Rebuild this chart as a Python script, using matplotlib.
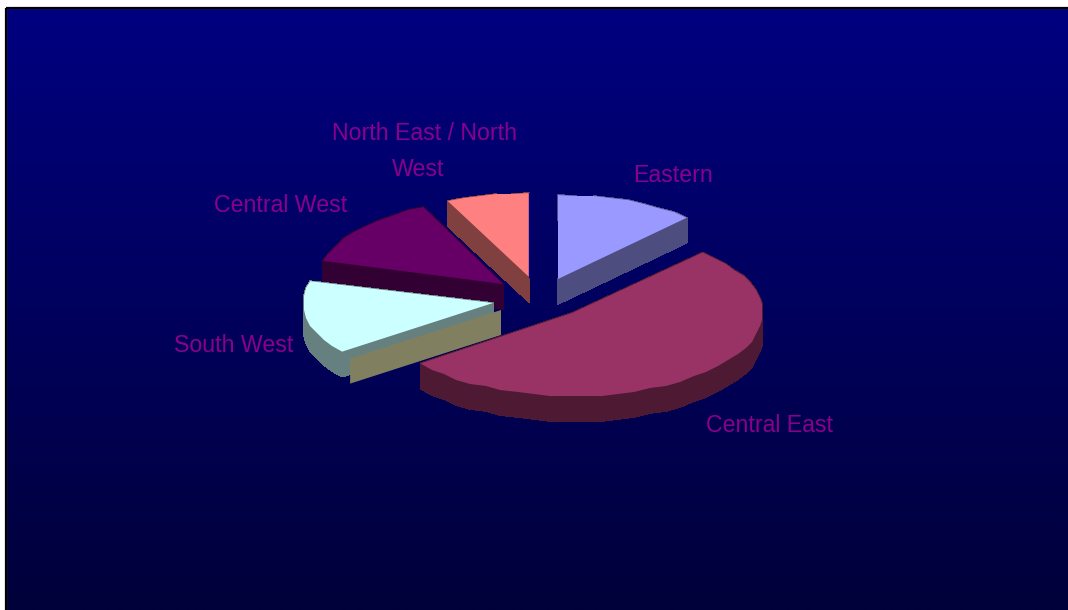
import numpy as np
import matplotlib
matplotlib.use('Agg')
import matplotlib.pyplot as plt
from matplotlib.patches import Polygon, Rectangle

regions = ['Eastern', 'Central East', 'South West', 'Central West', 'North East / North West']
shares = [12.0, 52.6, 14.8, 13.6, 7.0]

top_colors = ['#9999ff', '#993366', '#ccffff', '#660066', '#ff8080']
wall_colors = ['#4d4d80', '#4d1933', '#668080', '#330033', '#804040']
# back to front
draw_order = [4, 0, 3, 2, 1]
# where each exploded slice has its tip
tips = [(558, 279), (572, 313), (493, 303), (503, 284), (529, 277)]
# each slice gets its own radii because of the perspective
radii = [(188, 84), (191, 83), (190, 80), (187, 85), (191, 84)]
depth = 25

label_lines = [['Eastern'], ['Central East'], ['South West'], ['Central West'], ['North East / North', 'West']]
label_pos = [[(673, 175)], [(770, 425)], [(234, 345)], [(281, 206)], [(424, 134), (418, 170)]]

W, H = 1068, 610
fig = plt.figure(figsize=(W / 100, H / 100), dpi=100, facecolor='white')
ax = fig.add_axes([0, 0, 1, 1])
ax.set_xlim(0, W)
ax.set_ylim(H, 0)
ax.axis('off')

# navy gradient behind the pie
grad = np.zeros((256, 1, 3))
grad[:, 0, 2] = np.linspace(128, 58, 256) / 255
ax.imshow(grad, extent=(7, W, H, 9), aspect='auto', zorder=0)
ax.plot([5.5, 5.5], [H, 7.5], color='#b0b0b0', lw=0.8, zorder=1)
ax.plot([5.5, W], [7.5, 7.5], color='#b0b0b0', lw=0.8, zorder=1)
ax.add_patch(Rectangle((6, 8), W, H, fill=False, ec='black', lw=1.6, zorder=1))
ax.set_xlim(0, W)
ax.set_ylim(H, 0)


def slice_outline(tip, rx, ry, a0, a1):
    n = max(int(abs(a1 - a0) / 5), 2)
    t = np.radians(np.linspace(a0, a1, n + 1))
    x = tip[0] + rx * np.cos(t)
    y = tip[1] - ry * np.sin(t)
    # snap the inner rim points to a small grid so the rim looks slightly stepped
    x[1:-1] = np.round(x[1:-1] / 2) * 2
    y[1:-1] = np.round(y[1:-1] / 2) * 2
    return np.vstack([[tip], np.column_stack([x, y])])


edges = 90 - np.cumsum([0] + shares) * 360 / sum(shares)
z = 2
for i in draw_order:
    rx, ry = radii[i]
    pts = slice_outline(tips[i], rx, ry, edges[i], edges[i + 1])
    # side walls first, the top face goes over them
    for p, q in zip(pts, np.roll(pts, -1, axis=0)):
        quad = [p, q, q + [0, depth], p + [0, depth]]
        ax.add_patch(Polygon(quad, fc=wall_colors[i], ec=wall_colors[i], lw=0.5,
                             antialiased=False, zorder=z))
    if regions[i] == 'South West':
        # olive panel sitting in front of the straight wall
        panel = [pts[0] + [8, 7], pts[1] + [8, 7], pts[1] + [8, 7 + depth], pts[0] + [8, 7 + depth]]
        ax.add_patch(Polygon(panel, fc='#808060', ec='none', zorder=z))
    ax.add_patch(Polygon(pts, fc=top_colors[i], ec='none', zorder=z))
    if regions[i].startswith('North'):
        ax.plot(pts[[0, -1], 0], pts[[0, -1], 1], color='#000080', lw=1, zorder=z)
    z += 1

for lines, pos in zip(label_lines, label_pos):
    for s, (x, y) in zip(lines, pos):
        ax.text(x, y, s, ha='center', va='center', color='#8a008a', fontsize=16.7,
                family='Liberation Sans', zorder=20)

fig.savefig('out.png', dpi=100)
